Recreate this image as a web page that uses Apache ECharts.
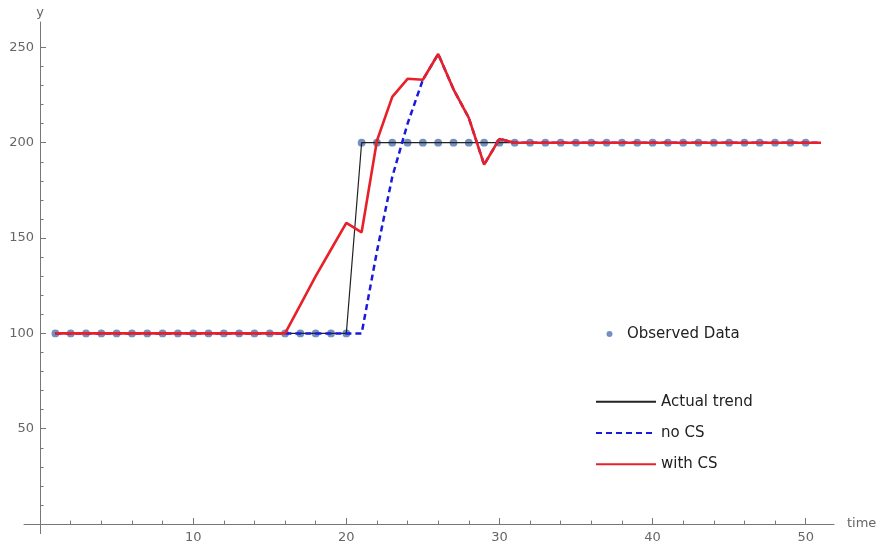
<!DOCTYPE html>
<html><head><meta charset="utf-8">
<script src="https://cdn.jsdelivr.net/npm/echarts@6/dist/echarts.min.js"></script>
<style>html,body{margin:0;padding:0;background:#fff}#c{width:880px;height:548px}</style>
</head><body><div id="c"></div>
<script>
// ---- data ----
const obsTime = [1,2,3,4,5,6,7,8,9,10,11,12,13,14,15,16,17,18,19,20,21,22,23,24,25,26,27,28,29,30,31,32,33,34,35,36,37,38,39,40,41,42,43,44,45,46,47,48,49,50];
const observed = [100,100,100,100,100,100,100,100,100,100,100,100,100,100,100,100,100,100,100,100,
                  200,200,200,200,200,200,200,200,200,200,200,200,200,200,200,200,200,200,200,200,200,200,200,200,200,200,200,200,200,200];
const actualTrend = [100,100,100,100,100,100,100,100,100,100,100,100,100,100,100,100,100,100,100,100,
                  200,200,200,200,200,200,200,200,200,200,200,200,200,200,200,200,200,200,200,200,200,200,200,200,200,200,200,200,200,200];
const fitTime = [1,2,3,4,5,6,7,8,9,10,11,12,13,14,15,16,17,18,19,20,21,22,23,24,25,26,27,28,29,30,31,32,33,34,35,36,37,38,39,40,41,42,43,44,45,46,47,48,49,50,51];
const noCS = [100,100,100,100,100,100,100,100,100,100,100,100,100,100,100,100,100,100,100,100,100,
              143,182,210,233,246.5,228,213,188.5,202,
              200,200,200,200,200,200,200,200,200,200,200,200,200,200,200,200,200,200,200,200,200];
const withCS = [100,100,100,100,100,100,100,100,100,100,100,100,100,100,100,100,
              115,130,144,158,153,201,224,233.5,233,246.5,228,213,188.5,202,
              200,200,200,200,200,200,200,200,200,200,200,200,200,200,200,200,200,200,200,200,200];
const xMajorTicks = [10,20,30,40,50];
const xMinorTicks = [2,4,6,8,12,14,16,18,22,24,26,28,32,34,36,38,42,44,46,48];
const yMajorTicks = [50,100,150,200,250];
const yMinorTicks = [10,20,30,40,60,70,80,90,110,120,130,140,160,170,180,190,210,220,230,240];

const pairs = (xs, ys) => xs.map((x, i) => [x, ys[i]]);

const axisColor = '#777';
const labelStyle = {color:'#666', fontFamily:'DejaVu Sans', fontSize:13};
const X_MIN = -1.05, X_MAX = 51.85, Y_MIN = -5, Y_MAX = 263.3;

const chart = echarts.init(document.getElementById('c'), null, {renderer:'canvas'});
chart.setOption({
  animation:false,
  backgroundColor:'#fff',
  grid:{left:24, width:810, top:22, height:511.6, containLabel:false, outerBoundsMode:'none'},
  xAxis:[
    {type:'value', min:X_MIN, max:X_MAX, position:'bottom',
     name:'time', nameLocation:'end', nameGap:13,
     nameTextStyle:Object.assign({}, labelStyle, {verticalAlign:'middle'}),
     axisLine:{show:true, onZero:true, lineStyle:{color:axisColor, width:1}},
     axisTick:{show:true, inside:true, length:6, customValues:xMajorTicks, lineStyle:{color:axisColor}},
     axisLabel:Object.assign({customValues:xMajorTicks, margin:-2.5}, labelStyle),
     splitLine:{show:false}},
    {type:'value', min:X_MIN, max:X_MAX, position:'bottom',
     axisLine:{show:false, onZero:true},
     axisTick:{show:true, inside:true, length:3.5, customValues:xMinorTicks, lineStyle:{color:axisColor}},
     axisLabel:{show:false}, splitLine:{show:false}}
  ],
  yAxis:[
    {type:'value', min:Y_MIN, max:Y_MAX, position:'left',
     name:'y', nameLocation:'end', nameGap:3, nameTextStyle:labelStyle,
     axisLine:{show:true, onZero:true, lineStyle:{color:axisColor, width:1}},
     axisTick:{show:true, inside:true, length:6, customValues:yMajorTicks, lineStyle:{color:axisColor}},
     axisLabel:Object.assign({customValues:yMajorTicks, margin:-10}, labelStyle),
     splitLine:{show:false}},
    {type:'value', min:Y_MIN, max:Y_MAX, position:'left',
     axisLine:{show:false, onZero:true},
     axisTick:{show:true, inside:true, length:3.5, customValues:yMinorTicks, lineStyle:{color:axisColor}},
     axisLabel:{show:false}, splitLine:{show:false}}
  ],
  legend:[
    {orient:'vertical', left:601.5, top:320, itemWidth:24.8, itemHeight:6, itemGap:10,
     data:[{name:'Observed Data', icon:'circle'}],
     textStyle:{color:'#222', fontFamily:'DejaVu Sans', fontSize:15, lineHeight:18}},
    {orient:'vertical', left:590, top:387.7, itemWidth:60, itemHeight:14, itemGap:13.3,
     data:['Actual trend','no CS','with CS'],
     itemStyle:{opacity:0},
     textStyle:{color:'#222', fontFamily:'DejaVu Sans', fontSize:15, lineHeight:18}}
  ],
  series:[
    {name:'Observed Data', type:'scatter', data:pairs(obsTime, observed), symbol:'circle', symbolSize:7.8,
     itemStyle:{color:'#5b7db3', opacity:0.85}, z:1},
    {name:'Actual trend', type:'line', data:pairs(obsTime, actualTrend), symbol:'none',
     lineStyle:{color:'#222', width:1.2}, itemStyle:{color:'#222'}, z:2},
    {name:'no CS', type:'line', data:pairs(fitTime, noCS), symbol:'none',
     lineStyle:{color:'#1a1adc', width:2.5, type:[6,4]}, itemStyle:{color:'#1a1adc'}, z:3},
    {name:'with CS', type:'line', data:pairs(fitTime, withCS), symbol:'none',
     lineStyle:{color:'#e8202a', width:2.6}, itemStyle:{color:'#e8202a'}, z:4}
  ]
});
</script></body></html>
